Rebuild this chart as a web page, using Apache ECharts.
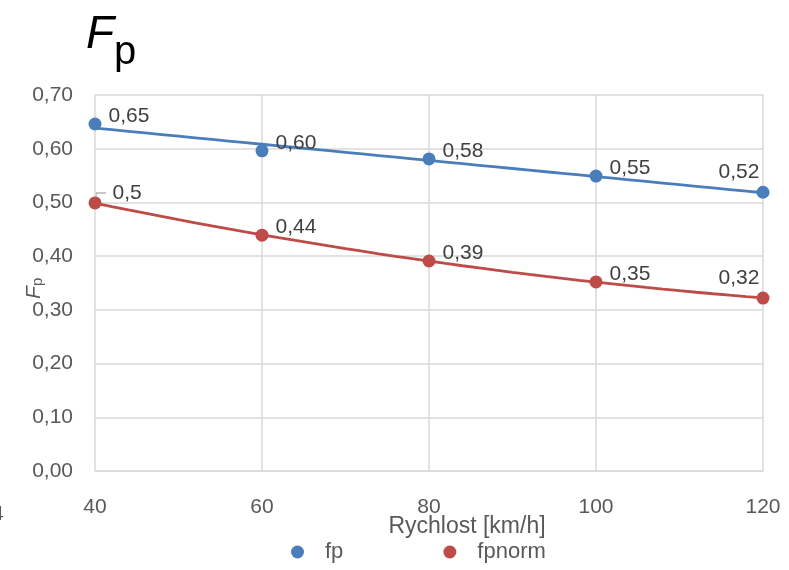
<!DOCTYPE html>
<html><head><meta charset="utf-8">
<script src="https://cdn.jsdelivr.net/npm/echarts@6/dist/echarts.min.js"></script>
<style>html,body{margin:0;padding:0;background:#fff}#c{width:789px;height:570px}</style>
</head><body><div id="c"></div>
<script>
const speeds = [40, 60, 80, 100, 120];
const fpValues = [0.646, 0.596, 0.581, 0.549, 0.519];
const fpnormValues = [0.499, 0.439, 0.391, 0.352, 0.322];
const fpLabels = ['0,65', '0,60', '0,58', '0,55', '0,52'];
const fpnormLabels = ['0,5', '0,44', '0,39', '0,35', '0,32'];
const yTicks = ['0,00','0,10','0,20','0,30','0,40','0,50','0,60','0,70'];

function polyFit(xs, ys, deg) {
  const n = deg + 1;
  const A = [];
  for (let i = 0; i < n; i++) { A.push(new Array(n + 1).fill(0)); }
  for (let k = 0; k < xs.length; k++) {
    for (let i = 0; i < n; i++) {
      for (let j = 0; j < n; j++) A[i][j] += Math.pow(xs[k], i + j);
      A[i][n] += ys[k] * Math.pow(xs[k], i);
    }
  }
  for (let i = 0; i < n; i++) {
    let p = i;
    for (let r = i + 1; r < n; r++) if (Math.abs(A[r][i]) > Math.abs(A[p][i])) p = r;
    [A[i], A[p]] = [A[p], A[i]];
    for (let r = 0; r < n; r++) {
      if (r === i) continue;
      const f = A[r][i] / A[i][i];
      for (let c = i; c <= n; c++) A[r][c] -= f * A[i][c];
    }
  }
  return A.map((row, i) => row[n] / row[i]);
}
function trend(xs, ys, deg) {
  const c = polyFit(xs, ys, deg);
  const out = [];
  const x0 = xs[0], x1 = xs[xs.length - 1];
  for (let i = 0; i <= 40; i++) {
    const x = x0 + (x1 - x0) * i / 40;
    let y = 0;
    c.forEach((ci, k) => { y += ci * Math.pow(x, k); });
    out.push([x, y]);
  }
  return out;
}

const BLUE = '#4a7ebb', RED = '#be4b48';
const FONT = 'Liberation Sans';
const txt = '#595959';
const FS = 21;

function pts(vals, labels, posFn) {
  return vals.map((v, i) => ({
    value: [speeds[i], v],
    label: Object.assign({ show: true, formatter: labels[i], fontSize: FS, color: '#404040', fontFamily: FONT }, posFn(i))
  }));
}
const fpPos = i => i === 4 ? { position: 'top', offset: [-24, 2] } : { position: 'right', offset: [2, -8] };
const fnPos = i => i === 4 ? { position: 'top', offset: [-24, 2] } : (i === 0 ? { position: 'right', offset: [6, -10] } : { position: 'right', offset: [2, -8] });

const chart = echarts.init(document.getElementById('c'));
chart.setOption({
  animation: false,
  grid: { left: 95, right: 26, top: 95, bottom: 99 },
  xAxis: {
    type: 'value', min: 40, max: 120, interval: 20,
    name: 'Rychlost [km/h]', nameLocation: 'middle', nameGap: 44, nameMoveOverlap: false,
    nameTextStyle: { fontSize: 23, color: txt, fontFamily: FONT, padding: [0, 0, 0, 76] },
    axisLine: { show: true, lineStyle: { color: '#d9d9d9', width: 1.5 } },
    axisTick: { show: false },
    axisLabel: { fontSize: FS, color: txt, fontFamily: FONT, margin: 26 },
    splitLine: { show: true, lineStyle: { color: '#d9d9d9', width: 1.5 } }
  },
  yAxis: {
    type: 'value', min: 0, max: 0.7, interval: 0.1,
    axisLine: { show: false }, axisTick: { show: false },
    axisLabel: { fontSize: FS, color: txt, fontFamily: FONT, margin: 22,
      formatter: v => yTicks[Math.round(v * 10)] },
    splitLine: { show: true, lineStyle: { color: '#d9d9d9', width: 1.5 } }
  },
  legend: {
    data: ['fp', 'fpnorm'], bottom: 2, left: 286, icon: 'circle',
    itemWidth: 13, itemHeight: 13, itemGap: 100,
    textStyle: { fontSize: 22, color: txt, fontFamily: FONT, padding: [0, 0, 0, 16] }
  },
  series: [
    { name: 'fp-trend', type: 'line', data: trend(speeds, fpValues, 1), showSymbol: false,
      lineStyle: { color: BLUE, width: 2.8 }, z: 2, silent: true },
    { name: 'fpnorm-trend', type: 'line', data: trend(speeds, fpnormValues, 2), showSymbol: false,
      lineStyle: { color: RED, width: 2.8 }, z: 2, silent: true },
    { name: 'fp', type: 'scatter', symbolSize: 13, itemStyle: { color: BLUE, opacity: 1 }, z: 3,
      data: pts(fpValues, fpLabels, fpPos) },
    { name: 'fpnorm', type: 'scatter', symbolSize: 13, itemStyle: { color: RED, opacity: 1 }, z: 3,
      data: pts(fpnormValues, fpnormLabels, fnPos) }
  ],
  graphic: [
    { type: 'text', left: 86, top: 12, style: { text: 'F', fontSize: 46, fontStyle: 'italic', fontFamily: FONT, fill: '#000' } },
    { type: 'text', left: 114, top: 33, style: { text: 'p', fontSize: 40, fontFamily: FONT, fill: '#000' } },
    { type: 'group', x: 24, y: 299, rotation: Math.PI / 2, children: [
      { type: 'text', x: 0, y: 0, style: { text: 'F', fontSize: 21, fontStyle: 'italic', fontFamily: FONT, fill: txt } },
      { type: 'text', x: 13, y: 6, style: { text: 'p', fontSize: 15, fontFamily: FONT, fill: txt } }
    ]},
    { type: 'text', left: -8, top: 504, style: { text: '4', fontSize: FS, fontFamily: FONT, fill: txt } },
    { type: 'line', shape: { x1: 96, y1: 193, x2: 106, y2: 193 }, style: { stroke: '#a6a6a6', lineWidth: 1.2 } },
    { type: 'line', shape: { x1: 96, y1: 193, x2: 96, y2: 198 }, style: { stroke: '#a6a6a6', lineWidth: 1.2 } }
  ]
});
</script></body></html>
